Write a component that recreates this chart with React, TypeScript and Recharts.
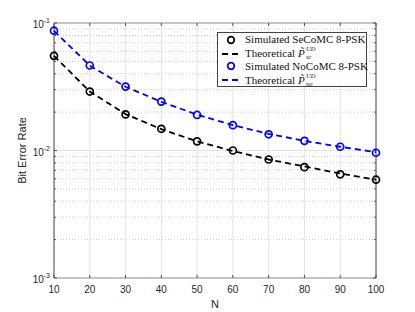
import { LineChart, Line, XAxis, YAxis, CartesianGrid, ReferenceLine, ReferenceArea, Legend } from "recharts"

const N = [10, 20, 30, 40, 50, 60, 70, 80, 90, 100]
const simSeCoMC = [0.0553, 0.029, 0.0192, 0.0148, 0.0118, 0.01, 0.0085, 0.0074, 0.0065, 0.0059]
const theoSeCoMC = [0.0553, 0.029, 0.0193, 0.0147, 0.0118, 0.0099, 0.0085, 0.0075, 0.0066, 0.0059]
const simNoCoMC = [0.087, 0.0464, 0.0317, 0.0242, 0.019, 0.0158, 0.0134, 0.0119, 0.0107, 0.0096]
const theoNoCoMC = [0.0868, 0.0463, 0.0316, 0.0241, 0.0191, 0.0158, 0.0135, 0.0119, 0.0107, 0.0097]

const xTicks = [10, 20, 30, 40, 50, 60, 70, 80, 90, 100]
const decades = [0.001, 0.01, 0.1]
const decadeLabels = ["-3", "-2", "-1"]
const minors = [2, 3, 4, 5, 6, 7, 8, 9].flatMap((m) => [m * 0.001, m * 0.01])
const yTicks = [...decades, ...minors].sort((a, b) => a - b)

const data = N.map((n, i) => ({
  n,
  simSc: simSeCoMC[i],
  theoSc: theoSeCoMC[i],
  simNo: simNoCoMC[i],
  theoNo: theoNoCoMC[i],
}))

const W = 415
const H = 312
const margin = { top: 23, right: 39, bottom: 4, left: 14 }
const plotTop = margin.top
const plotRight = W - margin.right
const axisColor = "#4d4d4d"
const labelColor = "#262626"
const sans = "'Liberation Sans', Arial, sans-serif"
const serif = "'Liberation Serif', 'Times New Roman', serif"

const XTick = ({ x, y, payload }: any) => (
  <g>
    <line x1={x} x2={x} y1={y} y2={y - 3} stroke={axisColor} />
    <line x1={x} x2={x} y1={plotTop} y2={plotTop + 3} stroke={axisColor} />
    <text x={x} y={y + 15} textAnchor="middle" fontSize={10} fontFamily={sans} fill={labelColor}>
      {payload.value}
    </text>
  </g>
)

const YTick = ({ x, y, payload }: any) => {
  const idx = decades.indexOf(payload.value)
  const len = idx >= 0 ? 3 : 2
  return (
    <g>
      <line x1={x} x2={x + len} y1={y} y2={y} stroke={axisColor} />
      <line x1={plotRight} x2={plotRight - len} y1={y} y2={y} stroke={axisColor} />
      {idx >= 0 && (
        <text x={x - 4} y={y + 5} textAnchor="end" fontSize={10} fontFamily={sans} fill={labelColor}>
          <tspan>10</tspan>
          <tspan dy={-5} fontSize={7}>{decadeLabels[idx]}</tspan>
        </text>
      )}
    </g>
  )
}

const PTilde = ({ sub }: { sub: string }) => (
  <span style={{ position: "relative", display: "inline-block", width: 20, height: 11, marginLeft: 3 }}>
    <span style={{ position: "absolute", left: 0, top: 0, fontStyle: "italic", lineHeight: "11px" }}>P&#771;</span>
    <span style={{ position: "absolute", left: 8, top: -2, fontSize: 6.5, lineHeight: "6px", fontStyle: "italic" }}>
      UD
    </span>
    <span style={{ position: "absolute", left: 8, top: 6, fontSize: 6.5, lineHeight: "6px", fontStyle: "italic" }}>
      {sub}
    </span>
  </span>
)

const legendRows = [
  { kind: "circle", color: "#000", text: "Simulated SeCoMC 8-PSK", sub: "", cy: 7 },
  { kind: "dash", color: "#000", text: "Theoretical", sub: "sc", cy: 21 },
  { kind: "circle", color: "#0000ff", text: "Simulated NoCoMC 8-PSK", sub: "", cy: 33.5 },
  { kind: "dash", color: "#0000ff", text: "Theoretical", sub: "no", cy: 47.5 },
]

const renderLegend = () => (
  <div
    style={{
      position: "relative",
      width: 150,
      height: 55,
      border: "1px solid #444",
      background: "#fff",
      fontFamily: serif,
      fontSize: 11,
      lineHeight: "11px",
      color: "#111",
      boxSizing: "border-box",
    }}
  >
    {legendRows.map((r, i) => (
      <div
        key={i}
        style={{
          position: "absolute",
          left: 0,
          top: r.cy - 6,
          height: 11,
          display: "flex",
          alignItems: "center",
          whiteSpace: "nowrap",
        }}
      >
        <svg width={27} height={10} style={{ flexShrink: 0 }}>
          {r.kind === "circle" ? (
            <circle cx={13} cy={5} r={3.3} fill="none" stroke={r.color} strokeWidth={1.7} />
          ) : (
            <line x1={4} x2={21} y1={5} y2={5} stroke={r.color} strokeWidth={1.8} strokeDasharray="6 4" />
          )}
        </svg>
        <span>{r.text}</span>
        {r.sub && <PTilde sub={r.sub} />}
      </div>
    ))}
  </div>
)

export default function App() {
  return (
    <div style={{ position: "absolute", left: 0, top: 0, width: W, height: H, background: "#fff" }}>
      <LineChart width={W} height={H} data={data} margin={margin}>
        {minors.map((v) => (
          <ReferenceLine key={v} y={v} stroke="#c8c8c8" strokeWidth={1} strokeDasharray="1 2" />
        ))}
        <CartesianGrid horizontal={false} stroke="#e3e3e3" />
        {decades.map((v) => (
          <ReferenceLine key={"d" + v} y={v} stroke="#e3e3e3" strokeWidth={1} />
        ))}
        <XAxis
          dataKey="n"
          type="number"
          domain={[10, 100]}
          ticks={xTicks}
          interval={0}
          height={30}
          tickSize={0}
          tickMargin={0}
          axisLine={false}
          tickLine={false}
          tick={<XTick />}
          label={({ viewBox }: any) => (
            <text
              x={viewBox.x + viewBox.width / 2}
              y={viewBox.y + 30}
              textAnchor="middle"
              fontSize={11}
              fontFamily={sans}
              fill={labelColor}
            >
              N
            </text>
          )}
        />
        <YAxis
          type="number"
          scale="log"
          domain={[0.001, 0.1]}
          allowDataOverflow
          ticks={yTicks}
          interval={0}
          width={40}
          tickSize={0}
          tickMargin={0}
          axisLine={false}
          tickLine={false}
          tick={<YTick />}
          label={({ viewBox }: any) => (
            <text
              x={viewBox.x + 12}
              y={viewBox.y + viewBox.height / 2}
              textAnchor="middle"
              fontSize={11}
              fontFamily={sans}
              fill={labelColor}
              transform={`rotate(-90 ${viewBox.x + 12} ${viewBox.y + viewBox.height / 2})`}
            >
              Bit Error Rate
            </text>
          )}
        />
        <ReferenceArea x1={10} x2={100} y1={0.001} y2={0.1} fill="none" stroke={axisColor} strokeWidth={1} />
        <Line
          dataKey="simSc"
          stroke="none"
          isAnimationActive={false}
          dot={{ r: 3.5, fill: "none", stroke: "#000", strokeWidth: 1.7 }}
          activeDot={false}
        />
        <Line
          dataKey="simNo"
          stroke="none"
          isAnimationActive={false}
          dot={{ r: 3.5, fill: "none", stroke: "#0000ff", strokeWidth: 1.7 }}
          activeDot={false}
        />
        <Line
          type="linear"
          dataKey="theoSc"
          stroke="#000"
          strokeWidth={1.8}
          strokeDasharray="6 4"
          dot={false}
          isAnimationActive={false}
        />
        <Line
          type="linear"
          dataKey="theoNo"
          stroke="#0000ff"
          strokeWidth={1.8}
          strokeDasharray="6 4"
          dot={false}
          isAnimationActive={false}
        />
        <Legend
          layout="horizontal"
          verticalAlign="middle"
          align="center"
          content={renderLegend}
          wrapperStyle={{ left: 217, top: 32, width: 150, height: 55 }}
        />
      </LineChart>
    </div>
  )
}
